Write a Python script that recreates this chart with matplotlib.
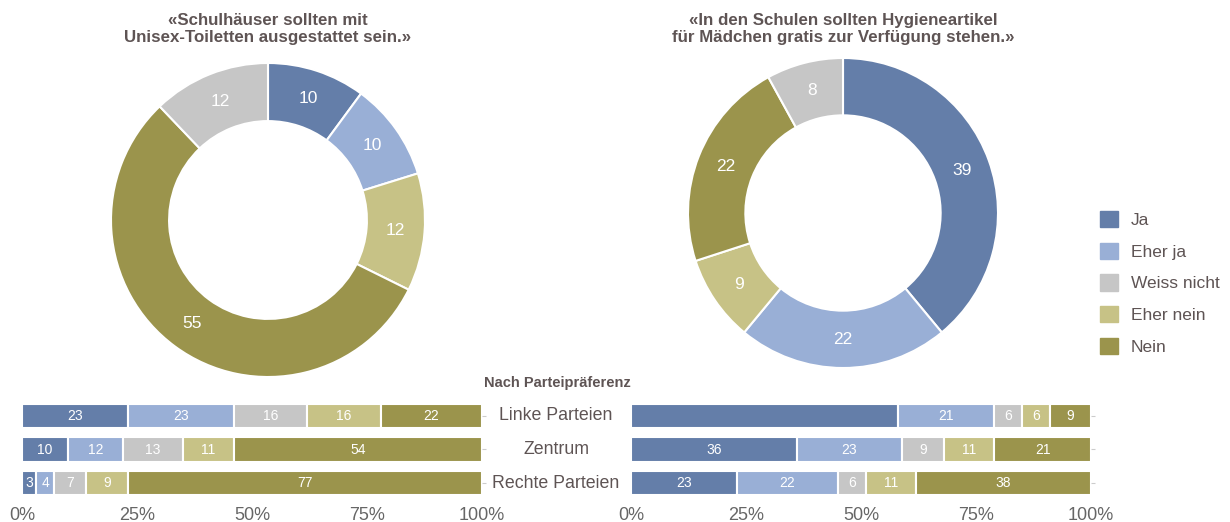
import matplotlib
matplotlib.use("Agg")
import matplotlib.pyplot as plt
from matplotlib.patches import Patch
import numpy as np

plt.rcParams['font.family'] = ['Liberation Sans', 'DejaVu Sans']

# antworten
kategorien = ["Ja", "Eher ja", "Weiss nicht", "Eher nein", "Nein"]
farben = ["#647ea9", "#99afd6", "#c6c6c6", "#c7c286", "#9b944c"]

# donuts (reihenfolge im kreis: Ja, Eher ja, Eher nein, Nein, Weiss nicht)
pie_reihenfolge = ["Ja", "Eher ja", "Eher nein", "Nein", "Weiss nicht"]
unisex_werte = [10, 10, 12, 55, 12]
hygiene_werte = [39, 22, 9, 22, 8]
unisex_titel = "«Schulhäuser sollten mit\nUnisex-Toiletten ausgestattet sein.»"
hygiene_titel = "«In den Schulen sollten Hygieneartikel\nfür Mädchen gratis zur Verfügung stehen.»"

# balken nach partei (Ja, Eher ja, Weiss nicht, Eher nein, Nein)
parteien = ["Linke Parteien", "Zentrum", "Rechte Parteien"]
unisex_partei = [[23, 23, 16, 16, 22],
                 [10, 12, 13, 11, 54],
                 [3, 4, 7, 9, 77]]
hygiene_partei = [[58, 21, 6, 6, 9],
                  [36, 23, 9, 11, 21],
                  [23, 22, 6, 11, 38]]
# im original fehlt die beschriftung beim ersten balken
hygiene_ohne_label = [(0, 0)]

W, H = 1230, 522
fig = plt.figure(figsize=(W / 100, H / 100), dpi=100)
textfarbe = "#5e5454"

def px_axes(x0, y0, x1, y1):
    return fig.add_axes([x0 / W, 1 - y1 / H, (x1 - x0) / W, (y1 - y0) / H])

def donut(cx, cy, r, werte, titel):
    ax = px_axes(cx - r, cy - r, cx + r, cy + r)
    cols = [farben[kategorien.index(k)] for k in pie_reihenfolge]
    wedges, _ = ax.pie(werte, colors=cols, startangle=90, counterclock=False,
                       radius=1, wedgeprops=dict(width=0.37, edgecolor="white", linewidth=1.5))
    total = sum(werte)
    start = 90
    for w in werte:
        mitte = np.deg2rad(start - w / total * 360 / 2)
        ax.text(0.815 * np.cos(mitte), 0.815 * np.sin(mitte), str(w), color="white",
                ha="center", va="center", fontsize=12.5)
        start -= w / total * 360
    ax.set_xlim(-1, 1)
    ax.set_ylim(-1, 1)
    ax.set_aspect("equal")
    ax.axis("off")
    fig.text(cx / W, 1 - 29 / H, titel, ha="center", va="center", fontsize=12.2,
             fontweight="bold", color=textfarbe, linespacing=1.1)

donut(268, 220, 157, unisex_werte, unisex_titel)
donut(843, 213, 155, hygiene_werte, hygiene_titel)

# legende
fig.legend(handles=[Patch(color=c, label=k) for k, c in zip(kategorien, farben)],
           loc="upper left", bbox_to_anchor=(1084 / W, 1 - 195 / H), frameon=False,
           fontsize=12.5, handlelength=1.05, handleheight=1.05, labelspacing=0.86,
           handletextpad=0.75, labelcolor=textfarbe)

def balken(ax, daten, ohne=()):
    y = np.arange(len(parteien))[::-1]
    for i, row in enumerate(daten):
        links = 0
        for j, v in enumerate(row):
            ax.barh(y[i], v, left=links, height=0.72, color=farben[j],
                    edgecolor="white", linewidth=1.5)
            if (i, j) not in ohne:
                ax.text(links + v / 2, y[i], str(v), color="white", ha="center",
                        va="center", fontsize=10)
            links += v
    ax.set_xlim(0, 100)
    ax.set_ylim(-0.5, 2.5)
    ax.set_xticks([0, 25, 50, 75, 100])
    ax.set_xticklabels(["0%", "25%", "50%", "75%", "100%"])
    ax.tick_params(axis="x", length=0, labelsize=13, labelcolor="#666666", pad=5)
    ax.yaxis.tick_right()
    ax.set_yticks(y)
    ax.set_yticklabels([])
    ax.tick_params(axis="y", length=3, color="#cccccc", pad=0)
    for s in ax.spines.values():
        s.set_visible(False)
    return y

ax1 = px_axes(22, 399, 482, 500)
y = balken(ax1, unisex_partei)
ax2 = px_axes(631, 399, 1091, 500)
balken(ax2, hygiene_partei, hygiene_ohne_label)

for yi, name in zip(y, parteien):
    xpix, ypix = ax1.transData.transform((0, yi))
    fig.text(556 / W, ypix / fig.dpi / fig.get_figheight(), name, ha="center", va="center",
             fontsize=12.8, color=textfarbe)

fig.text(557 / W, 1 - 383 / H, "Nach Parteipräferenz", ha="center", va="center",
         fontsize=10.5, fontweight="bold", color=textfarbe)

fig.savefig("out.png", dpi=100)
